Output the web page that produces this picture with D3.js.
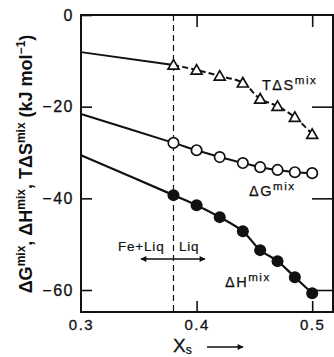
<!DOCTYPE html>
<html>
<head>
<meta charset="utf-8">
<script src="https://cdn.jsdelivr.net/npm/d3@7"></script>
<style>
  body { margin: 0; background: #fff; }
  svg { display: block; }
  text { font-family: "Liberation Sans", Arial, sans-serif; fill: #111; }
</style>
</head>
<body>
<svg class="svg-canvas" width="334" height="357"></svg>
<script>
// values (x = mole fraction of S)
var xMarks = [0.38, 0.40, 0.42, 0.44, 0.455, 0.47, 0.485, 0.50];
var tdsVals = [-10.9, -12.0, -13.3, -14.8, -18.3, -19.9, -22.3, -26.0];
var dgVals = [-27.9, -29.5, -31.0, -32.3, -33.2, -33.8, -34.3, -34.5];
var dhVals = [-39.3, -41.5, -44.1, -47.2, -51.3, -53.7, -57.2, -60.7];
// where each curve leaves the left axis
var lineStartX = 0.30;
var tdsStart = -8.1, dgStart = -21.6, dhStart = -30.6;
var boundaryX = 0.38;

var xTicks = [0.3, 0.4, 0.5];
var yTicks = [0, -20, -40, -60];

var svg = d3.select(".svg-canvas");
var padL = 81, padR = 333, padT = 15, padB = 312;

var x = d3.scaleLinear().domain([0.3, 0.518]).range([padL, padR]);
var y = d3.scaleLinear().domain([-64.8, 0]).range([padB, padT]);

// frame
svg.append("rect")
  .attr("x", padL).attr("y", padT)
  .attr("width", padR - padL).attr("height", padB - padT)
  .attr("fill", "none").attr("stroke", "#111").attr("stroke-width", 2);

function fmtY(d) { return d === 0 ? "0" : "\u2212" + Math.abs(d); }

var gl = svg.append("g").attr("transform", "translate(" + padL + ",0)")
  .call(d3.axisLeft(y).tickValues(yTicks).tickSize(-11).tickPadding(7).tickFormat(fmtY));
var gr = svg.append("g").attr("transform", "translate(" + padR + ",0)")
  .call(d3.axisRight(y).tickValues(yTicks.slice(1)).tickSize(-21).tickFormat(""));
var gb = svg.append("g").attr("transform", "translate(0," + padB + ")")
  .call(d3.axisBottom(x).tickValues(xTicks).tickSize(-11).tickPadding(7).tickFormat(d3.format(".1f")));
var gt = svg.append("g").attr("transform", "translate(0," + padT + ")")
  .call(d3.axisTop(x).tickValues(xTicks.slice(1)).tickSize(-12).tickFormat(""));

svg.selectAll(".domain").remove();
svg.selectAll(".tick line").attr("stroke", "#111").attr("stroke-width", 1.6);
gl.selectAll("text").attr("font-size", 16).attr("letter-spacing", 1.5).attr("fill", "#111")
  .attr("stroke", "#111").attr("stroke-width", 0.3)
  .style("font-family", "Liberation Sans, Arial, sans-serif");
gb.selectAll("text").attr("font-size", 15).attr("letter-spacing", 1.5).attr("fill", "#111")
  .attr("stroke", "#111").attr("stroke-width", 0.3)
  .style("font-family", "Liberation Sans, Arial, sans-serif");
gb.selectAll(".tick").filter(function(d) { return d === 0.3; }).select("line").remove();

// dashed phase boundary
svg.append("line")
  .attr("x1", x(boundaryX)).attr("x2", x(boundaryX))
  .attr("y1", padT).attr("y2", padB)
  .attr("stroke", "#111").attr("stroke-width", 1.2)
  .attr("stroke-dasharray", "6,4");

var line = d3.line()
  .x(function(d) { return x(d[0]); })
  .y(function(d) { return y(d[1]); })
  .curve(d3.curveCatmullRom.alpha(0.5));

function pts(vals) { return xMarks.map(function(v, i) { return [v, vals[i]]; }); }

// T dS: solid lead-in, dashed through the markers
svg.append("path")
  .attr("d", d3.line().x(function(d) { return x(d[0]); }).y(function(d) { return y(d[1]); })([[lineStartX, tdsStart], [xMarks[0], tdsVals[0]]]))
  .attr("fill", "none").attr("stroke", "#111").attr("stroke-width", 2);
svg.append("path")
  .attr("d", line(pts(tdsVals)))
  .attr("fill", "none").attr("stroke", "#111").attr("stroke-width", 2)
  .attr("stroke-dasharray", "6,3");

svg.append("path")
  .attr("d", line([[lineStartX, dgStart]].concat(pts(dgVals))))
  .attr("fill", "none").attr("stroke", "#111").attr("stroke-width", 2);
svg.append("path")
  .attr("d", line([[lineStartX, dhStart]].concat(pts(dhVals))))
  .attr("fill", "none").attr("stroke", "#111").attr("stroke-width", 2.2);

// markers
svg.selectAll(".tri").data(pts(tdsVals)).enter().append("path")
  .attr("class", "tri")
  .attr("d", d3.symbol().type(d3.symbolTriangle).size(52))
  .attr("transform", function(d) { return "translate(" + x(d[0]) + "," + (y(d[1]) + 1) + ")"; })
  .attr("fill", "#fff").attr("stroke", "#111").attr("stroke-width", 1.7);

svg.selectAll(".ocirc").data(pts(dgVals)).enter().append("circle")
  .attr("class", "ocirc")
  .attr("cx", function(d) { return x(d[0]); })
  .attr("cy", function(d) { return y(d[1]); })
  .attr("r", 5.2).attr("fill", "#fff").attr("stroke", "#111").attr("stroke-width", 1.7);

svg.selectAll(".fcirc").data(pts(dhVals)).enter().append("circle")
  .attr("class", "fcirc")
  .attr("cx", function(d) { return x(d[0]); })
  .attr("cy", function(d) { return y(d[1]); })
  .attr("r", 6).attr("fill", "#111");

// labels with superscripts
function label(px, py, main, sup, size) {
  var t = svg.append("text").attr("x", px).attr("y", py)
    .attr("font-size", size).attr("letter-spacing", 1.5)
    .attr("stroke", "#111").attr("stroke-width", 0.25);
  t.append("tspan").text(main);
  t.append("tspan").text(sup).attr("font-size", size * 0.8).attr("dy", -6);
  return t;
}
label(262, 90, "T\u0394S", "mix", 14.5);
label(249, 196, "\u0394G", "mix", 14.5);
label(225, 287, "\u0394H", "mix", 14.5);

svg.append("text").attr("x", 118).attr("y", 251).attr("font-size", 13.5)
  .attr("letter-spacing", 0.8).attr("stroke", "#111").attr("stroke-width", 0.2).text("Fe+Liq");
svg.append("text").attr("x", 179).attr("y", 251).attr("font-size", 13.5)
  .attr("letter-spacing", 0.8).attr("stroke", "#111").attr("stroke-width", 0.2).text("Liq");

// double arrow across the boundary
var defs = svg.append("defs");
defs.append("marker").attr("id", "ah").attr("viewBox", "0 0 10 10")
  .attr("refX", 9).attr("refY", 5).attr("markerWidth", 8).attr("markerHeight", 6)
  .attr("markerUnits", "userSpaceOnUse").attr("orient", "auto-start-reverse")
  .append("path").attr("d", "M0,0 L10,5 L0,10 Z").attr("fill", "#111");
svg.append("line")
  .attr("x1", 141).attr("x2", 205).attr("y1", 259).attr("y2", 259)
  .attr("stroke", "#111").attr("stroke-width", 1.3)
  .attr("marker-start", "url(#ah)").attr("marker-end", "url(#ah)");

// x axis title
var xt = svg.append("text").attr("x", 173).attr("y", 352).attr("font-size", 19)
  .attr("stroke", "#111").attr("stroke-width", 0.3);
xt.append("tspan").text("X");
xt.append("tspan").text("s").attr("font-size", 12).attr("dy", 2);
svg.append("line")
  .attr("x1", 207).attr("x2", 243).attr("y1", 347).attr("y2", 347)
  .attr("stroke", "#111").attr("stroke-width", 1.3)
  .attr("marker-end", "url(#ah)");

// y axis title
var yt = svg.append("text")
  .attr("transform", "translate(32,164) rotate(-90)")
  .attr("text-anchor", "middle").attr("font-size", 18).attr("font-weight", "bold");
[["\u0394G", "mix"], [", \u0394H", "mix"], [", T\u0394S", "mix"], [" (kJ mol", "\u22121"]].forEach(function(p) {
  yt.append("tspan").text(p[0]);
  yt.append("tspan").text(p[1]).attr("font-size", 12).attr("baseline-shift", "7");
});
yt.append("tspan").text(")");
</script>
</body>
</html>
